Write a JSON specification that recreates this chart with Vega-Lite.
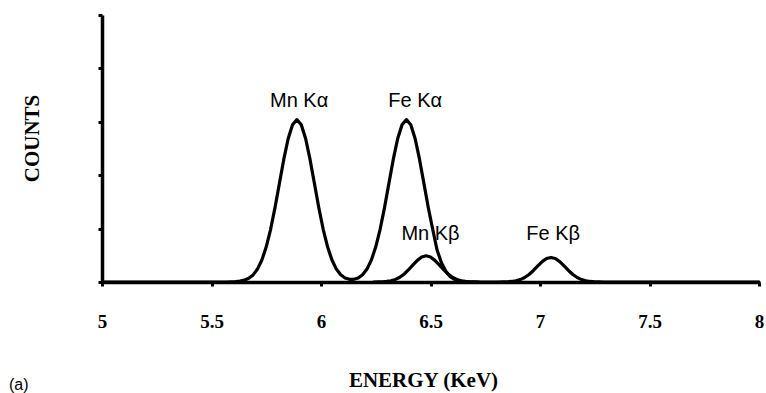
{
  "$schema": "https://vega.github.io/schema/vega-lite/v6.json",
  "width": 657,
  "height": 267,
  "autosize": {"type": "none"},
  "padding": {"left": 102, "top": 15, "right": 7, "bottom": 111},
  "background": "white",
  "config": {"view": {"stroke": null}},
  "datasets": {
    "spectrum": [
      {"series": "main", "e": 5.0, "c": 0},
      {"series": "main", "e": 5.5, "c": 0},
      {"series": "main", "e": 5.57, "c": 0},
      {"series": "main", "e": 5.59, "c": 0.003},
      {"series": "main", "e": 5.61, "c": 0.007},
      {"series": "main", "e": 5.63, "c": 0.016},
      {"series": "main", "e": 5.65, "c": 0.034},
      {"series": "main", "e": 5.67, "c": 0.069},
      {"series": "main", "e": 5.69, "c": 0.133},
      {"series": "main", "e": 5.71, "c": 0.242},
      {"series": "main", "e": 5.73, "c": 0.411},
      {"series": "main", "e": 5.75, "c": 0.658},
      {"series": "main", "e": 5.77, "c": 0.987},
      {"series": "main", "e": 5.79, "c": 1.392},
      {"series": "main", "e": 5.81, "c": 1.844},
      {"series": "main", "e": 5.83, "c": 2.295},
      {"series": "main", "e": 5.85, "c": 2.683},
      {"series": "main", "e": 5.87, "c": 2.946},
      {"series": "main", "e": 5.89, "c": 3.04},
      {"series": "main", "e": 5.91, "c": 2.946},
      {"series": "main", "e": 5.93, "c": 2.683},
      {"series": "main", "e": 5.95, "c": 2.295},
      {"series": "main", "e": 5.97, "c": 1.844},
      {"series": "main", "e": 5.99, "c": 1.392},
      {"series": "main", "e": 6.01, "c": 0.987},
      {"series": "main", "e": 6.03, "c": 0.658},
      {"series": "main", "e": 6.05, "c": 0.411},
      {"series": "main", "e": 6.07, "c": 0.242},
      {"series": "main", "e": 6.09, "c": 0.136},
      {"series": "main", "e": 6.11, "c": 0.076},
      {"series": "main", "e": 6.13, "c": 0.05},
      {"series": "main", "e": 6.15, "c": 0.05},
      {"series": "main", "e": 6.17, "c": 0.076},
      {"series": "main", "e": 6.19, "c": 0.136},
      {"series": "main", "e": 6.21, "c": 0.242},
      {"series": "main", "e": 6.23, "c": 0.411},
      {"series": "main", "e": 6.25, "c": 0.658},
      {"series": "main", "e": 6.27, "c": 0.987},
      {"series": "main", "e": 6.29, "c": 1.392},
      {"series": "main", "e": 6.31, "c": 1.844},
      {"series": "main", "e": 6.33, "c": 2.295},
      {"series": "main", "e": 6.35, "c": 2.683},
      {"series": "main", "e": 6.37, "c": 2.946},
      {"series": "main", "e": 6.39, "c": 3.04},
      {"series": "main", "e": 6.41, "c": 2.946},
      {"series": "main", "e": 6.43, "c": 2.683},
      {"series": "main", "e": 6.45, "c": 2.295},
      {"series": "main", "e": 6.47, "c": 1.844},
      {"series": "main", "e": 6.49, "c": 1.392},
      {"series": "main", "e": 6.51, "c": 0.987},
      {"series": "main", "e": 6.53, "c": 0.6},
      {"series": "main", "e": 6.55, "c": 0.36},
      {"series": "main", "e": 6.57, "c": 0.2},
      {"series": "main", "e": 6.59, "c": 0.1},
      {"series": "main", "e": 6.61, "c": 0.05},
      {"series": "main", "e": 6.63, "c": 0.022},
      {"series": "main", "e": 6.65, "c": 0.009},
      {"series": "main", "e": 6.67, "c": 0.003},
      {"series": "main", "e": 6.69, "c": 0},
      {"series": "main", "e": 6.81, "c": 0},
      {"series": "main", "e": 6.83, "c": 0.0015},
      {"series": "main", "e": 6.85, "c": 0.004},
      {"series": "main", "e": 6.87, "c": 0.01},
      {"series": "main", "e": 6.89, "c": 0.022},
      {"series": "main", "e": 6.91, "c": 0.045},
      {"series": "main", "e": 6.93, "c": 0.084},
      {"series": "main", "e": 6.95, "c": 0.141},
      {"series": "main", "e": 6.97, "c": 0.216},
      {"series": "main", "e": 6.99, "c": 0.3},
      {"series": "main", "e": 7.01, "c": 0.381},
      {"series": "main", "e": 7.03, "c": 0.439},
      {"series": "main", "e": 7.05, "c": 0.46},
      {"series": "main", "e": 7.07, "c": 0.439},
      {"series": "main", "e": 7.09, "c": 0.381},
      {"series": "main", "e": 7.11, "c": 0.3},
      {"series": "main", "e": 7.13, "c": 0.216},
      {"series": "main", "e": 7.15, "c": 0.141},
      {"series": "main", "e": 7.17, "c": 0.084},
      {"series": "main", "e": 7.19, "c": 0.045},
      {"series": "main", "e": 7.21, "c": 0.022},
      {"series": "main", "e": 7.23, "c": 0.01},
      {"series": "main", "e": 7.25, "c": 0.004},
      {"series": "main", "e": 7.27, "c": 0.0015},
      {"series": "main", "e": 7.29, "c": 0},
      {"series": "main", "e": 8.0, "c": 0},
      {"series": "mnkb", "e": 6.24, "c": 0},
      {"series": "mnkb", "e": 6.26, "c": 0.002},
      {"series": "mnkb", "e": 6.28, "c": 0.004},
      {"series": "mnkb", "e": 6.3, "c": 0.011},
      {"series": "mnkb", "e": 6.32, "c": 0.024},
      {"series": "mnkb", "e": 6.34, "c": 0.048},
      {"series": "mnkb", "e": 6.36, "c": 0.089},
      {"series": "mnkb", "e": 6.38, "c": 0.15},
      {"series": "mnkb", "e": 6.4, "c": 0.23},
      {"series": "mnkb", "e": 6.42, "c": 0.32},
      {"series": "mnkb", "e": 6.44, "c": 0.405},
      {"series": "mnkb", "e": 6.46, "c": 0.467},
      {"series": "mnkb", "e": 6.48, "c": 0.49},
      {"series": "mnkb", "e": 6.5, "c": 0.467},
      {"series": "mnkb", "e": 6.52, "c": 0.405},
      {"series": "mnkb", "e": 6.54, "c": 0.32},
      {"series": "mnkb", "e": 6.56, "c": 0.23},
      {"series": "mnkb", "e": 6.58, "c": 0.15},
      {"series": "mnkb", "e": 6.6, "c": 0.089},
      {"series": "mnkb", "e": 6.62, "c": 0.048},
      {"series": "mnkb", "e": 6.64, "c": 0.024},
      {"series": "mnkb", "e": 6.66, "c": 0.011},
      {"series": "mnkb", "e": 6.68, "c": 0.004},
      {"series": "mnkb", "e": 6.7, "c": 0.002},
      {"series": "mnkb", "e": 6.72, "c": 0}
    ],
    "labels": [
      {"label": "Mn Kα", "e": 5.9, "c": 3.39},
      {"label": "Fe Kα", "e": 6.43, "c": 3.39},
      {"label": "Mn Kβ", "e": 6.5, "c": 0.9},
      {"label": "Fe Kβ", "e": 7.06, "c": 0.9}
    ],
    "caption": [
      {"label": "(a)", "e": 4.62, "c": -1.92}
    ]
  },
  "layer": [
    {
      "data": {"name": "spectrum"},
      "mark": {"type": "line", "color": "black", "strokeWidth": 3.2, "strokeJoin": "round", "strokeCap": "round"},
      "encoding": {
        "x": {
          "field": "e", "type": "quantitative",
          "scale": {"domain": [5, 8], "nice": false, "zero": false},
          "axis": {
            "values": [5, 5.5, 6, 6.5, 7, 7.5, 8],
            "format": "~g",
            "grid": false,
            "domainColor": "black", "domainWidth": 3.5,
            "tickColor": "black", "tickWidth": 3, "tickSize": 4,
            "labelFont": "Liberation Serif", "labelFontWeight": "bold", "labelFontSize": 19, "labelColor": "black",
            "labelPadding": 26,
            "labelFlush": false,
            "title": "ENERGY (KeV)",
            "titleFont": "Liberation Serif", "titleFontWeight": "bold", "titleFontSize": 21, "titleColor": "black",
            "titleX": 321, "titleY": 98, "titleBaseline": "middle", "titleAlign": "center"
          }
        },
        "y": {
          "field": "c", "type": "quantitative",
          "scale": {"domain": [0, 5], "nice": false},
          "axis": {
            "values": [0, 1, 2, 3, 4, 5],
            "labels": false,
            "grid": false,
            "domainColor": "black", "domainWidth": 3.5,
            "tickColor": "black", "tickWidth": 3, "tickSize": 4,
            "title": "COUNTS",
            "titleFont": "Liberation Serif", "titleFontWeight": "bold", "titleFontSize": 21, "titleColor": "black",
            "titleX": -70, "titleY": 123, "titleBaseline": "middle", "titleAlign": "center", "titleAngle": 270
          }
        },
        "detail": {"field": "series"}
      }
    },
    {
      "data": {"name": "labels"},
      "mark": {"type": "text", "font": "Liberation Sans", "fontSize": 20, "color": "black", "align": "center", "baseline": "middle"},
      "encoding": {
        "x": {"field": "e", "type": "quantitative"},
        "y": {"field": "c", "type": "quantitative"},
        "text": {"field": "label"}
      }
    },
    {
      "data": {"name": "caption"},
      "mark": {"type": "text", "font": "Liberation Sans", "fontSize": 16, "color": "black", "align": "center", "baseline": "middle"},
      "encoding": {
        "x": {"field": "e", "type": "quantitative"},
        "y": {"field": "c", "type": "quantitative"},
        "text": {"field": "label"}
      }
    }
  ]
}
